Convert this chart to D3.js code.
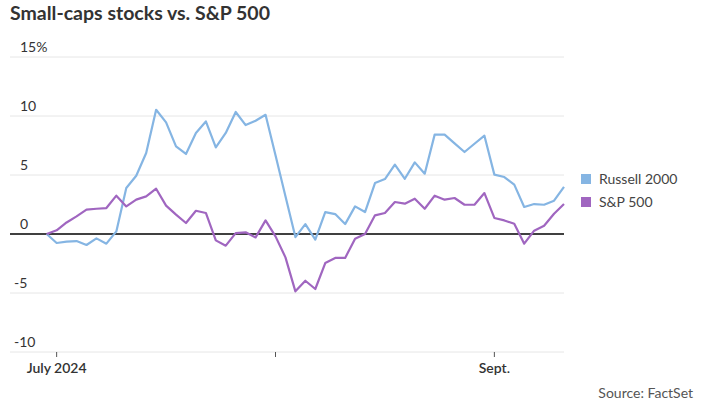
<!DOCTYPE html>
<html>
<head>
<meta charset="utf-8">
<script src="https://cdn.jsdelivr.net/npm/d3@7"></script>
<style>
  body { margin: 0; background: #fff; }
  svg { display: block; font-family: Lato, "Open Sans", sans-serif; }
</style>
</head>
<body>
<div id="chart"></div>
<script>
'use strict';

// trading days, June 28 close = 0
const dates = [
  "2024-06-28",
  "2024-07-01", "2024-07-02", "2024-07-03", "2024-07-05", "2024-07-08", "2024-07-09", "2024-07-10", "2024-07-11",
  "2024-07-12", "2024-07-15", "2024-07-16", "2024-07-17", "2024-07-18", "2024-07-19", "2024-07-22", "2024-07-23",
  "2024-07-24", "2024-07-25", "2024-07-26", "2024-07-29", "2024-07-30", "2024-07-31",
  "2024-08-01", "2024-08-02", "2024-08-05", "2024-08-06", "2024-08-07", "2024-08-08", "2024-08-09", "2024-08-12",
  "2024-08-13", "2024-08-14", "2024-08-15", "2024-08-16", "2024-08-19", "2024-08-20", "2024-08-21", "2024-08-22",
  "2024-08-23", "2024-08-26", "2024-08-27", "2024-08-28", "2024-08-29", "2024-08-30",
  "2024-09-03", "2024-09-04", "2024-09-05", "2024-09-06", "2024-09-09", "2024-09-10", "2024-09-11", "2024-09-12"
];

const russell = [0, -0.76, -0.65, -0.6, -0.93, -0.37, -0.82, 0.22, 3.9, 4.94, 6.86, 10.53, 9.46, 7.42, 6.78, 8.56,
  9.54, 7.34, 8.56, 10.34, 9.23, 9.6, 10.1, 6.68, 3.2, -0.26, 0.84, -0.48, 1.86, 1.69, 0.84, 2.34, 1.86, 4.32, 4.66,
  5.87, 4.68, 6.07, 5.11, 8.42, 8.42, 7.68, 6.95, 7.65, 8.33, 5.03, 4.83, 4.18, 2.29, 2.54, 2.48, 2.82, 4.0];

const sp500 = [0, 0.31, 0.98, 1.49, 2.06, 2.14, 2.2, 3.25, 2.34, 2.91, 3.19, 3.84, 2.4, 1.64, 0.93, 1.97,
  1.78, -0.54, -0.99, 0.08, 0.14, -0.29, 1.15, -0.2, -1.98, -4.86, -3.96, -4.66, -2.46, -2.03, -2.03, -0.4, 0, 1.58, 1.78,
  2.71, 2.57, 2.99, 2.14, 3.25, 2.91, 3.05, 2.48, 2.48, 3.47, 1.36, 1.15, 0.87, -0.82, 0.28, 0.7, 1.72, 2.54];

const seriesNames = ["Russell 2000", "S&P 500"];
const yTicks = [-10, -5, 0, 5, 10, 15];
const monthLabels = ["July 2024", "", "Sept."];

let width = 703,
    height = 412;

let color = d3.scaleOrdinal()
    .domain(seriesNames)
    .range(['#85b5e3', '#a066c0']);

let svg = d3.select("#chart")
  .append("svg")
    .attr("width", width)
    .attr("height", height);

let x = d3.scalePoint()
    .domain(dates)
    .range([46.7, 564]);

let y = d3.scaleLinear()
    .domain([-10, 15])
    .range([352, 57]);

svg.append("text")
    .attr("x", 10)
    .attr("y", 20)
    .attr("fill", "#333")
    .style("font-size", "19.5px")
    .style("font-weight", "bold")
    .text("Small-caps stocks vs. S&P 500");

// gridlines + labels
let grid = svg.append("g");
grid.selectAll("line")
  .data(yTicks)
  .enter().append("line")
    .attr("x1", 10)
    .attr("x2", 564)
    .attr("y1", d => y(d))
    .attr("y2", d => y(d))
    .attr("stroke", d => d === 0 ? "#000" : "#e6e6e6")
    .attr("stroke-width", d => d === 0 ? 1.4 : 1);

grid.selectAll("text")
  .data(yTicks)
  .enter().append("text")
    .attr("x", d => d < 0 ? 14 : 20)
    .attr("y", d => y(d) - 5)
    .attr("fill", "#333")
    .style("font-size", "14px")
    .text(d => d === 15 ? d + "%" : d);

// month ticks on the first trading day of each month
let monthStarts = dates.filter((d, i) => i > 0 && d.slice(5, 7) !== dates[i - 1].slice(5, 7));

let xAxis = svg.append("g");
xAxis.selectAll("line")
  .data(monthStarts)
  .enter().append("line")
    .attr("x1", d => x(d))
    .attr("x2", d => x(d))
    .attr("y1", 352)
    .attr("y2", 357)
    .attr("stroke", "#555");

xAxis.selectAll("text")
  .data(monthStarts)
  .enter().append("text")
    .attr("x", d => x(d))
    .attr("y", 373)
    .attr("text-anchor", "middle")
    .attr("fill", "#333")
    .style("font-size", "14px")
    .style("font-weight", "600")
    .text((d, i) => monthLabels[i]);

let line = d3.line()
    .x((d, i) => x(dates[i]))
    .y(d => y(d));

svg.selectAll("path.series")
  .data([russell, sp500])
  .enter().append("path")
    .attr("class", "series")
    .attr("d", line)
    .attr("fill", "none")
    .attr("stroke", (d, i) => color(seriesNames[i]))
    .attr("stroke-width", 2.2)
    .attr("stroke-linejoin", "round");

// legend
let legend = svg.selectAll("g.legend")
  .data(seriesNames)
  .enter().append("g")
    .attr("class", "legend")
    .attr("transform", (d, i) => "translate(581," + (174 + i * 23) + ")");

legend.append("rect")
    .attr("width", 10)
    .attr("height", 10)
    .attr("fill", d => color(d));

legend.append("text")
    .attr("x", 18)
    .attr("y", 9.5)
    .attr("fill", "#444")
    .style("font-size", "14px")
    .text(d => d);

svg.append("text")
    .attr("x", 693)
    .attr("y", 398)
    .attr("text-anchor", "end")
    .attr("fill", "#555")
    .style("font-size", "14px")
    .text("Source: FactSet");
</script>
</body>
</html>
